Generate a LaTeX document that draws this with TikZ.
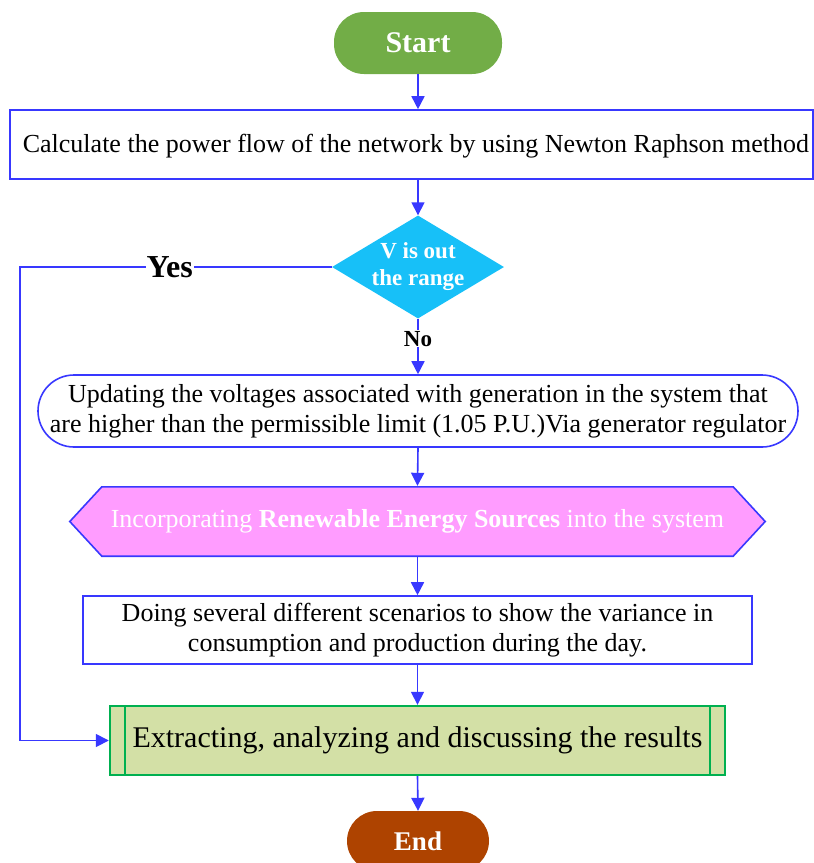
\documentclass[tikz,border=0pt]{standalone}
\usepackage{fontspec}
\setmainfont{Liberation Serif}
\usetikzlibrary{shapes.geometric,arrows.meta}
\definecolor{lineblue}{HTML}{3838FF}
\definecolor{startgreen}{HTML}{72AD47}
\definecolor{decblue}{HTML}{17C0F8}
\definecolor{hexpink}{HTML}{FF9CFF}
\definecolor{extfill}{HTML}{D3E0A6}
\definecolor{extline}{HTML}{00B050}
\definecolor{endbrown}{HTML}{AE4300}
\tikzset{
  conn/.style={draw=lineblue, line width=1.6pt, -{Triangle[width=13pt,length=13pt]}},
  terminal/.style={rectangle, rounded corners=30pt, inner sep=0pt, text=white},
  procbox/.style={rectangle, draw=lineblue, line width=1.6pt, fill=white, inner sep=0pt,
    align=center, font=\fontsize{26}{30}\selectfont},
  decshape/.style={diamond, fill=decblue, inner sep=0pt, minimum width=172pt, minimum height=103pt},
  dectext/.style={align=center, text=white, font=\fontsize{23}{27}\selectfont\bfseries},
  lbl/.style={fill=white, inner sep=1pt},
}
\begin{document}
\begin{tikzpicture}[x=1pt,y=-1pt]
\useasboundingbox (0,0) rectangle (814,863);
% nodes
\node[terminal, fill=startgreen, minimum width=168pt, minimum height=62pt,
  font=\fontsize{30}{32}\selectfont\bfseries] (start) at (418,43) {Start};
\node[procbox, minimum width=803pt, minimum height=69pt] (calc) at (411.5,144.5) {};
\node[font=\fontsize{26}{30}\selectfont] (calct) at (416,146)
  {Calculate the power flow of the network by using Newton Raphson method};
\node[decshape] (dec) at (418,267) {};
\node[dectext] (dect) at (dec.center) {V is out\\the range};
\node[procbox, rounded corners=36pt, minimum width=760pt, minimum height=72pt] (upd) at (418,411)
  {Updating the voltages associated with generation in the system that\\are higher than the permissible limit (1.05 P.U.)Via generator regulator};
\node[rectangle, inner sep=0pt, minimum width=631pt, minimum height=69pt] (hex) at (417.5,521.5) {};
\draw[fill=hexpink, draw=lineblue, line width=1.6pt, line join=miter]
  ([xshift=-32pt]hex.west) -- (hex.north west) -- (hex.north east) -- ([xshift=32pt]hex.east)
  -- (hex.south east) -- (hex.south west) -- cycle;
\node[text=white, font=\fontsize{26}{30}\selectfont] (hext) at (hex.center)
  {Incorporating \textbf{Renewable Energy Sources} into the system};
\node[procbox, minimum width=669pt, minimum height=68pt] (scen) at (417.5,630)
  {Doing several different scenarios to show the variance in\\consumption and production during the day.};
\node[rectangle, draw=extline, line width=2.4pt, fill=extfill, inner sep=0pt,
  minimum width=615pt, minimum height=69pt, font=\fontsize{30}{32}\selectfont] (ext) at (417.5,740.5)
  {Extracting, analyzing and discussing the results};
\draw[extline, line width=2pt] ([xshift=16pt]ext.north west) -- ([xshift=16pt]ext.south west);
\draw[extline, line width=2pt] ([xshift=-16pt]ext.north east) -- ([xshift=-16pt]ext.south east);
\node[terminal, fill=endbrown, minimum width=142pt, minimum height=60pt,
  font=\fontsize{27}{30}\selectfont\bfseries] (end) at (418,841) {End};
\coordinate (yc) at (20,267);
% connectors
\draw[conn] (start.south) -- (start.south |- calc.north);
\draw[conn] (start.south |- calc.south) -- (dec.north);
\draw[conn] (dec.south) -- node[lbl, pos=0.36, font=\fontsize{23}{26}\selectfont\bfseries]{No} (upd.north);
\draw[conn] (upd.south) -- ([yshift=1pt]hex.north);
\draw[conn] (hex.south) -- (scen.north);
\draw[conn] (scen.south) -- (ext.north);
\draw[conn] (ext.south) -- (end.north);
\draw[conn] (dec.west) -- node[lbl, pos=0.52, font=\fontsize{32}{34}\selectfont\bfseries]{Yes} (yc) |- (ext.west);
\end{tikzpicture}
\end{document}
